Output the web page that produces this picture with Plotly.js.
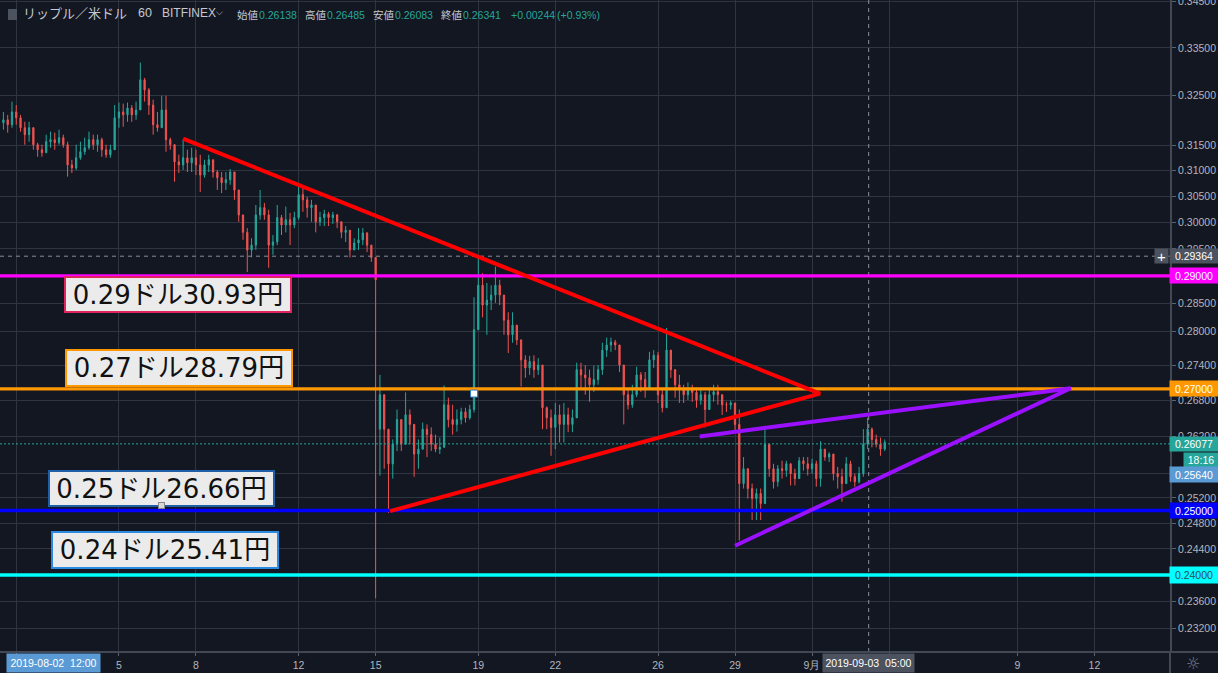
<!DOCTYPE html>
<html><head><meta charset="utf-8">
<script src="https://cdn.plot.ly/plotly-3.0.1.min.js"></script>
<style>html,body{margin:0;padding:0;background:#131722;overflow:hidden}#c{width:1218px;height:673px}</style>
</head><body><div id="c"></div>
<script>
const firstCandle = '2019-07-31T12:00:00Z';
const stepHours = 4;
const opens = [.3195,.3201,.3191,.3217,.3205,.3185,.3171,.3185,.3151,.3141,.3135,.3157,.3161,.3155,.3165,.3151,.3111,.3105,.3125,.3137,.3145,.3161,.3151,.3161,.3141,.3131,.3141,.3205,.3217,.3211,.3225,.3211,.3221,.3283,.3262,.3231,.3191,.3185,.3221,.3161,.3151,.3117,.3111,.3125,.3115,.3125,.3111,.3091,.3111,.3121,.3097,.3086,.3076,.3082,.3097,.3062,.3014,.2981,.2948,.2957,.3014,.3028,.3014,.2957,.2963,.3009,.2995,.3005,.2995,.3009,.3053,.3043,.3028,.3033,.3001,.3009,.3016,.3009,.3014,.3001,.2981,.2985,.2948,.2961,.2967,.2980,.2957,.2934,.2632,.2690,.2632,.2575,.2607,.2648,.2607,.2656,.2640,.2591,.2599,.2632,.2623,.2607,.2599,.2602,.2673,.2648,.2640,.2648,.2661,.2651,.2665,.2803,.2883,.2847,.2856,.2865,.2883,.2865,.2820,.2794,.2811,.2785,.2750,.2736,.2747,.2733,.2741,.2668,.2651,.2635,.2656,.2640,.2656,.2640,.2651,.2733,.2724,.2719,.2707,.2716,.2733,.2767,.2776,.2781,.2776,.2741,.2690,.2673,.2690,.2724,.2716,.2699,.2750,.2758,.2690,.2668,.2767,.2733,.2707,.2699,.2690,.2699,.2694,.2681,.2690,.2665,.2690,.2695,.2690,.2673,.2673,.2676,.2640,.2543,.2567,.2535,.2519,.2527,.2511,.2607,.2567,.2546,.2567,.2564,.2575,.2559,.2551,.2580,.2575,.2567,.2575,.2551,.2599,.2586,.2591,.2559,.2554,.2543,.2575,.2554,.2546,.2559,.2607,.2632,.2615,.2607,.2599];
const highs = [.3217,.3211,.3238,.3231,.3211,.3197,.3197,.3181,.3155,.3151,.3171,.3177,.3175,.3181,.3171,.3157,.3121,.3151,.3157,.3165,.3177,.3171,.3171,.3165,.3151,.3151,.3231,.3236,.3234,.3236,.3231,.3238,.3319,.3287,.3266,.3242,.3217,.3250,.3250,.3165,.3151,.3131,.3161,.3141,.3145,.3141,.3131,.3121,.3131,.3115,.3101,.3097,.3097,.3103,.3091,.3062,.3009,.2989,.2970,.3033,.3062,.3037,.3024,.2976,.3033,.3014,.3030,.3018,.3020,.3068,.3068,.3049,.3043,.3028,.3020,.3024,.3020,.3020,.3016,.2997,.2993,.2974,.2970,.2989,.2989,.2981,.2957,.2934,.2724,.2681,.2632,.2615,.2665,.2648,.2694,.2665,.2640,.2615,.2643,.2640,.2635,.2623,.2618,.2706,.2685,.2673,.2665,.2668,.2668,.2673,.2861,.2939,.2905,.2887,.2883,.2917,.2893,.2865,.2834,.2834,.2806,.2785,.2758,.2757,.2758,.2753,.2736,.2670,.2665,.2676,.2673,.2676,.2668,.2665,.2745,.2745,.2741,.2733,.2740,.2741,.2780,.2789,.2789,.2785,.2776,.2741,.2699,.2707,.2738,.2729,.2729,.2764,.2767,.2764,.2699,.2806,.2758,.2729,.2724,.2707,.2711,.2707,.2702,.2702,.2695,.2699,.2707,.2707,.2685,.2678,.2680,.2673,.2665,.2586,.2567,.2543,.2535,.2535,.2632,.2602,.2575,.2573,.2580,.2580,.2575,.2567,.2586,.2586,.2586,.2583,.2580,.2612,.2599,.2594,.2583,.2570,.2567,.2586,.2580,.2559,.2570,.2632,.2651,.2635,.2623,.2618,.2615];
const lows = [.3181,.3175,.3185,.3191,.3177,.3151,.3157,.3141,.3127,.3127,.3137,.3145,.3141,.3151,.3145,.3088,.3095,.3101,.3121,.3131,.3141,.3141,.3137,.3127,.3125,.3125,.3145,.3185,.3187,.3197,.3197,.3201,.3242,.3238,.3211,.3171,.3177,.3205,.3137,.3141,.3078,.3095,.3101,.3097,.3097,.3091,.3058,.3086,.3097,.3086,.3062,.3056,.3062,.3072,.3043,.3001,.2967,.2907,.2934,.2948,.3005,.3005,.2915,.2939,.2957,.2976,.2981,.2957,.2989,.3005,.3020,.3009,.3001,.2981,.2993,.2993,.2993,.2997,.2989,.2970,.2963,.2934,.2948,.2948,.2957,.2944,.2926,.2365,.2556,.2567,.2496,.2551,.2596,.2596,.2615,.2607,.2554,.2567,.2599,.2586,.2596,.2594,.2591,.2602,.2635,.2623,.2628,.2640,.2643,.2648,.2660,.2824,.2825,.2794,.2838,.2851,.2847,.2794,.2762,.2780,.2776,.2704,.2719,.2724,.2719,.2724,.2632,.2632,.2588,.2599,.2610,.2610,.2627,.2627,.2653,.2702,.2690,.2678,.2695,.2707,.2724,.2755,.2764,.2767,.2729,.2640,.2665,.2668,.2686,.2695,.2685,.2699,.2736,.2676,.2660,.2686,.2719,.2685,.2676,.2676,.2681,.2678,.2668,.2673,.2635,.2668,.2678,.2673,.2656,.2661,.2665,.2628,.2453,.2535,.2519,.2485,.2485,.2485,.2535,.2554,.2535,.2538,.2551,.2554,.2540,.2540,.2564,.2564,.2556,.2559,.2538,.2538,.2580,.2578,.2548,.2535,.2514,.2551,.2546,.2538,.2543,.2554,.2599,.2602,.2602,.2588,.2596];
const closes = [.3201,.3191,.3217,.3205,.3185,.3171,.3185,.3151,.3141,.3135,.3157,.3161,.3155,.3165,.3151,.3111,.3105,.3125,.3137,.3145,.3161,.3151,.3161,.3141,.3131,.3141,.3205,.3217,.3211,.3225,.3211,.3221,.3283,.3262,.3231,.3191,.3185,.3221,.3161,.3151,.3117,.3111,.3125,.3115,.3125,.3111,.3091,.3111,.3121,.3097,.3086,.3076,.3082,.3097,.3062,.3014,.2981,.2948,.2957,.3014,.3028,.3014,.2957,.2963,.3009,.2995,.3005,.2995,.3009,.3053,.3043,.3028,.3033,.3001,.3009,.3016,.3009,.3014,.3001,.2981,.2985,.2948,.2961,.2967,.2980,.2957,.2934,.2893,.2690,.2632,.2575,.2607,.2648,.2607,.2656,.2640,.2591,.2599,.2632,.2623,.2607,.2599,.2602,.2673,.2648,.2640,.2648,.2661,.2651,.2665,.2803,.2883,.2847,.2856,.2865,.2883,.2865,.2820,.2794,.2811,.2785,.2750,.2736,.2747,.2733,.2741,.2668,.2651,.2635,.2656,.2640,.2656,.2640,.2651,.2733,.2724,.2719,.2707,.2716,.2733,.2767,.2776,.2781,.2776,.2741,.2690,.2673,.2690,.2724,.2716,.2699,.2750,.2758,.2690,.2668,.2767,.2733,.2707,.2699,.2690,.2699,.2694,.2681,.2690,.2665,.2690,.2695,.2690,.2673,.2673,.2676,.2640,.2543,.2567,.2535,.2519,.2527,.2511,.2607,.2567,.2546,.2567,.2564,.2575,.2559,.2551,.2580,.2575,.2567,.2575,.2551,.2599,.2586,.2591,.2559,.2554,.2543,.2575,.2554,.2546,.2559,.2607,.2632,.2615,.2607,.2599,.2610];

const yTicks = [.345,.335,.325,.315,.31,.305,.3,.295,.29,.285,.28,.274,.27,.268,.262,.256,.252,.25,.248,.244,.24,.236,.232];
const yTickText = ['0.34500','0.33500','0.32500','0.31500','0.31000','0.30500','0.30000','0.29500','','0.28500','0.28000','0.27400','','0.26800','0.26200','','0.25200','','0.24800','0.24400','','0.23600','0.23200'];
const xTickDates = ['2019-08-01','2019-08-05','2019-08-08','2019-08-12','2019-08-15','2019-08-19','2019-08-22','2019-08-26','2019-08-29','2019-09-01','2019-09-04','2019-09-09','2019-09-12'];
const xTickText = ['','5','8','12','15','19','22','26','29','9月','','9','12'];

const levelPrices = [.29,.27,.25,.24];
const levelColors = ['#ff00ff','#ff9800','#0000ff','#00ffff'];
const redX = ['2019-08-07T12:00:00Z','2019-09-01T07:30:00Z','2019-08-15T13:30:00Z'];
const redY = [.3163,.2692,.2499];
const purpleX = ['2019-08-27T15:00:00Z','2019-09-11T02:00:00Z','2019-08-29T00:00:00Z'];
const purpleY = [.2620,.2701,.2445];
const crossPrice = .29364, crossTime = '2019-09-03T05:00:00Z', lastPrice = .26077;
const xStart = '2019-07-31T08:48:00Z', xEnd = '2019-09-14T22:42:00Z';
const yTop = .3453, yBottom = .2286;

const W=1218, H=673, PW=1170, PH=652;
const LATIN='"Liberation Sans",Arial,sans-serif', CJK='"Noto Sans CJK JP"', UP='#26a69a', DOWN='#ef5350', GRID='#2f3441', TXT='#b2b5be';

const priceLabels = ['0.29364','0.29000','0.27000','0.26077','18:16','0.25640','0.25000','0.24000','+'];
const priceLabelBg = ['#4c525e','#ff00ff','#ff9800','#26a69a','#26a69a','#5b9bd5','#0000ff','#00ffff','#4c525e'];
const priceLabelFg = ['#ffffff','#ffffff','#ffffff','#ffffff','#ffffff','#ffffff','#ffffff','#2a4a5a','#ffffff'];
const priceLabelBox = [[1170,249,48,14],[1170,268,48,15],[1170,381,48,15],[1170,437,48,14],[1184,453,34,14],[1170,467,48,15],[1170,503,48,15],[1170,567,48,16],[1155,249,13,14]];

const noteTexts = ['0.29ドル30.93円','0.27ドル28.79円','0.25ドル26.66円','0.24ドル25.41円'];
const noteBorder = ['#e0245e','#ff9800','#1f5fa8','#2a8ae0'];
const noteBox = [[64,276,228,37],[65,349,228,38],[48,470,227,37],[51,531,228,38]];

const times = opens.map((_,i)=>new Date(Date.parse(firstCandle)+i*stepHours*3600e3).toISOString());
const traces = [{
  type:'candlestick',x:times,open:opens,high:highs,low:lows,close:closes,
  increasing:{line:{color:UP,width:1},fillcolor:UP},
  decreasing:{line:{color:DOWN,width:1},fillcolor:DOWN},
  whiskerwidth:0,showlegend:false,hoverinfo:'skip'
}];
const line=(x,y,color,width,dash)=>({type:'scatter',mode:'lines',x,y,line:{color,width,dash:dash||'solid'},showlegend:false,hoverinfo:'skip'});
traces.push(line([xStart,xEnd],[crossPrice,crossPrice],'#8a8f9c',1,'4px,4px'));
traces.push(line([crossTime,crossTime],[yTop,yBottom],'#8a8f9c',1,'4px,4px'));
traces.push(line([xStart,xEnd],[lastPrice,lastPrice],UP,1,'2px,2px'));
levelPrices.forEach((p,i)=>traces.push(line([xStart,xEnd],[p,p],levelColors[i],3.4)));
traces.push(line(redX,redY,'#ff0000',4));
traces.push(line(purpleX,purpleY,'#9b10ff',4));
traces.push({type:'scatter',mode:'markers',x:['2019-08-18T20:00:00Z'],y:[.2692],marker:{symbol:'square',size:7,color:'#ffffff',line:{color:'#2f7fc8',width:1}},showlegend:false,hoverinfo:'skip'});

const px=x=>x/PW, py=y=>1-y/PH;
const ann=[];
const txt=(t,x,y,color,size,family)=>ann.push({text:t,xref:'paper',yref:'paper',x:px(x),y:py(y),xanchor:'left',yanchor:'middle',showarrow:false,font:{family:family||LATIN,size,color}});
const box=(t,b,bg,fg,size,family,extra)=>ann.push(Object.assign({text:t,xref:'paper',yref:'paper',x:px(b[0]+b[2]/2),y:py(b[1]+b[3]/2),xanchor:'center',yanchor:'middle',showarrow:false,
  width:b[2],height:b[3],borderpad:0,bgcolor:bg,align:'center',valign:'middle',font:{family:family||LATIN,size,color:fg}},extra||{}));
noteTexts.forEach((t,i)=>{
  const b=noteBox[i];
  box(t,[b[0]+2,b[1]+2,b[2]-4,b[3]-4],'#ebebeb','#111111',26,'"DejaVu Sans","Noto Sans CJK JP"',{bordercolor:noteBorder[i],borderwidth:2});
});
box(' ',[159,503,5,5],'#d8d8d8','#d8d8d8',4,LATIN,{bordercolor:'#888888',borderwidth:1});
priceLabels.forEach((t,i)=>box(t,priceLabelBox[i],priceLabelBg[i],priceLabelFg[i],t==='+'?15:10.5));
box('2019-08-02  12:00',[7,654,93,18],'#5b9bd5','#ffffff',10.5);
box('2019-09-03  05:00',[823,654,91,18],'#4c525e','#ffffff',10.5);
ann.push({text:'☼',xref:'paper',yref:'paper',x:px(1193),y:py(663),xanchor:'center',yanchor:'middle',showarrow:false,font:{family:'"DejaVu Sans"',size:16,color:'#7a7f8c'}});
txt('リップル／米ドル',21,13,'#c5c8d0',13,CJK);
txt('60',136,13,'#c5c8d0',12.5);
txt('BITFINEX',160,13,'#c5c8d0',12);
txt('⌵',214,12,'#c5c8d0',9,'"DejaVu Sans"');
const headLabels=['始値','高値','安値','終値'], headValues=['0.26138','0.26485','0.26083','0.26341'];
const headLabelX=[235,302.5,370.5,439], headValueX=[257,325,393,461];
headLabels.forEach((l,i)=>{
  txt(l,headLabelX[i],15,'#c5c8d0',10.5,CJK);
  txt(headValues[i],headValueX[i],15,UP,10.5);
});
txt('+0.00244',509,15,UP,10.5);
txt('(+0.93%)',555,15,UP,10.5);

const shapes=[{type:'rect',xref:'paper',yref:'paper',x0:px(8),x1:px(17),y0:py(9),y1:py(20),fillcolor:'#4c525e',line:{width:0}},
 {type:'line',xref:'paper',yref:'paper',x0:px(0),x1:px(W),y0:py(652),y1:py(652),line:{color:'#434855',width:2}},
 {type:'line',xref:'paper',yref:'paper',x0:px(1170),x1:px(1170),y0:py(652),y1:py(673),line:{color:'#434855',width:2}}];

Plotly.newPlot('c',traces,{
  width:W,height:H,margin:{l:0,r:W-PW,t:0,b:H-PH,pad:0},
  paper_bgcolor:'#131722',plot_bgcolor:'#131722',showlegend:false,boxgap:0.58,
  xaxis:{type:'date',range:[xStart,xEnd],rangeslider:{visible:false},tickmode:'array',tickvals:xTickDates,ticktext:xTickText,
    showgrid:true,gridcolor:GRID,gridwidth:1,zeroline:false,ticks:'outside',ticklen:3,tickcolor:'#5d6270',
    tickfont:{family:LATIN,size:10.5,color:TXT},showline:false},
  yaxis:{type:'log',side:'right',range:[Math.log10(yBottom),Math.log10(yTop)],tickmode:'array',tickvals:yTicks,ticktext:yTickText,
    showgrid:true,gridcolor:GRID,gridwidth:1,zeroline:false,ticks:'outside',ticklen:4,tickcolor:'#5d6270',ticklabeloverflow:'allow',
    tickfont:{family:LATIN,size:10.5,color:TXT},showline:true,linecolor:'#434855',linewidth:2},
  annotations:ann,shapes:shapes
},{staticPlot:true,displayModeBar:false});
</script></body></html>
